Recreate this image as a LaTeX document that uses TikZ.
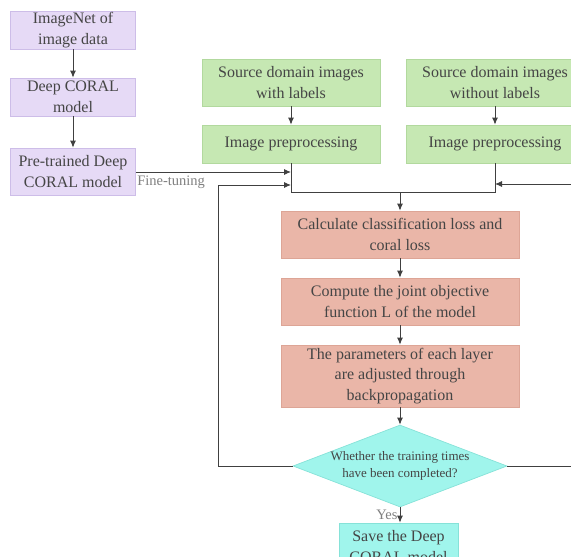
\documentclass[tikz,border=0pt]{standalone}
\usepackage{fontspec}
\setmainfont{Liberation Serif}
\usepackage{xcolor}
\usetikzlibrary{shapes.geometric,arrows.meta}

\definecolor{lila}{HTML}{E6DAF6}
\definecolor{lilaborde}{HTML}{CDBDE8}
\definecolor{verde}{HTML}{C6E8B3}
\definecolor{verdeborde}{HTML}{B2D99E}
\definecolor{rosa}{HTML}{EAB6A8}
\definecolor{rosaborde}{HTML}{DDA596}
\definecolor{agua}{HTML}{A0F5EC}
\definecolor{aguaborde}{HTML}{86E2D8}
\definecolor{texto}{HTML}{454545}
\definecolor{linea}{HTML}{404040}

\tikzset{
  caja/.style={rectangle, inner sep=0pt, align=center, text=texto,
    line width=0.7pt, font=\fontsize{16}{20.5}\selectfont},
  cajalila/.style={caja, fill=lila, draw=lilaborde, minimum width=125pt, minimum height=38pt},
  cajaverde/.style={caja, fill=verde, draw=verdeborde, minimum width=178pt, minimum height=38pt},
  cajarosa/.style={caja, fill=rosa, draw=rosaborde, minimum width=238pt, minimum height=47pt},
  flecha/.style={draw=linea, line width=0.9pt, -{Latex[length=7pt,width=6pt]}},
  linea/.style={draw=linea, line width=0.9pt},
  etiqueta/.style={text=gray, inner sep=1pt, font=\fontsize{14.5}{16}\selectfont}
}

\begin{document}
\begin{tikzpicture}[x=1pt,y=-1pt]

    % Marco de la imagen
    \useasboundingbox (0,0) rectangle (571,557);
    \clip (0,0) rectangle (571,557);

    % Columna lila
    \node[cajalila] (imagenet) at (73,30) {ImageNet of\\image data};
    \node[cajalila] (deepcoral) at (73,97) {Deep CORAL\\model};
    \node[cajalila, minimum height=47pt] (pretrained) at (73,171.5) {Pre-trained Deep\\CORAL model};

    % Cajas verdes
    \node[cajaverde, minimum height=47pt] (srclabel) at (291,82.5) {Source domain images\\with labels};
    \node[cajaverde, minimum height=47pt] (srcnolabel) at (495,82.5) {Source domain images\\without labels};
    \node[cajaverde] (prepleft) at (291,144) {Image preprocessing};
    \node[cajaverde] (prepright) at (495,144) {Image preprocessing};

    % Cajas rosas
    \node[cajarosa] (loss) at (400,234.5) {Calculate classification loss and\\coral loss};
    \node[cajarosa] (objective) at (400,301.5) {Compute the joint objective\\function L of the model};
    \node[cajarosa, minimum height=62pt] (params) at (400,376) {The parameters of each layer\\are adjusted through\\backpropagation};

    % Rombo y caja final
    \node[caja, diamond, aspect=2.6, fill=agua, draw=aguaborde, minimum width=214pt,
      minimum height=82pt, font=\fontsize{13}{16.5}\selectfont] (check) at (400,466)
      {Whether the training times\\have been completed?};
    \node[caja, fill=agua, draw=aguaborde, minimum width=119pt, minimum height=47pt] (save) at (398.5,546.5)
      {Save the Deep\\CORAL model};

    % Puntos de union
    \coordinate (joinleft) at (291,192);
    \coordinate (joinright) at (495,192);
    \coordinate (joinmid) at (400,192);
    \coordinate (tuneend) at (291,172);
    \coordinate (loopend) at (291,185);
    \coordinate (loopleft) at (218,466);
    \coordinate (loopup) at (218,185);
    \coordinate (rightout) at (590,466);
    \coordinate (rightin) at (590,184);
    \coordinate (rightend) at (495,184);

    % Flechas de la columna lila
    \draw[flecha] (imagenet) -- (deepcoral);
    \draw[flecha] (deepcoral) -- (pretrained);

    % Flechas verdes y union
    \draw[flecha] (srclabel) -- (prepleft);
    \draw[flecha] (srcnolabel) -- (prepright);
    \draw[linea] (prepleft.south) -- (joinleft) -- (joinright) -- (prepright.south);
    \draw[flecha] (joinmid) -- (loss);

    % Ajuste fino
    \draw[flecha] (pretrained.east |- tuneend) -- (tuneend)
      node[etiqueta, pos=0, anchor=north west, yshift=-2pt] {Fine-tuning};

    % Flechas rosas
    \draw[flecha] (loss) -- (objective);
    \draw[flecha] (objective) -- (params);
    \draw[flecha] (params) -- (check);

    % Bucles de entrenamiento
    \draw[flecha] (check.west) -- (loopleft) -- (loopup) -- (loopend);
    \draw[linea] (check.east) -- (rightout);
    \draw[flecha] (rightin) -- (rightend);

    % Salida
    \draw[flecha] (check.south) -- (save.north -| check.south)
      node[etiqueta, midway, left, xshift=-1pt] {Yes};

\end{tikzpicture}
\end{document}
